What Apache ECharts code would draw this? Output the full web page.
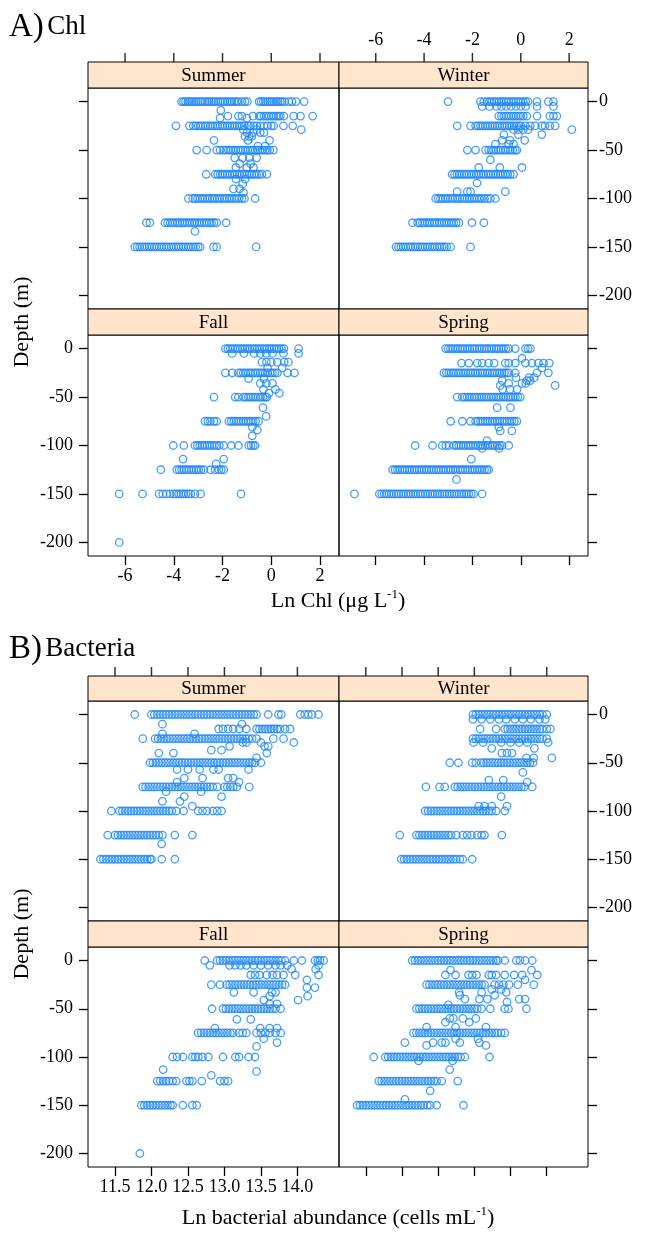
<!DOCTYPE html>
<html>
<head>
<meta charset="utf-8">
<script src="https://cdn.jsdelivr.net/npm/echarts@6/dist/echarts.min.js"></script>
<style>
html, body { margin: 0; padding: 0; background: #fff; }
#chart { width: 648px; height: 1236px; }
</style>
</head>
<body>
<div id="chart"></div>
<script>
// each row: [depth, x values...]  (x = Ln Chl or Ln bacterial abundance)
const chlSummer = [
  [0, -3.68,-3.6,-3.52,-3.42,-3.35,-3.26,-3.18,-3.08,-3.0,-2.9,-2.82,-2.72,-2.62,-2.55,-2.45,-2.36,-2.28,-2.18,-2.08,-1.98,-1.9,-1.8,-1.7,-1.62,-1.52,-1.42,-1.35,-1.2,-1.08,-0.98,-0.5,-0.42,-0.33,-0.25,-0.15,-0.06,0.02,0.1,0.2,0.28,0.37,0.45,0.55,0.72,0.85,1.02,1.35],
  [-9, -2.07],
  [-15, -1.78,-1.35,-1.2,-0.75,-0.5,-0.42,-0.3,-0.2,-0.1,0.0,0.1,0.2,0.3,0.37,0.52,0.92,1.2,1.7],
  [-17, -2.1,-1.0],
  [-25, -3.91,-3.36,-3.2,-3.1,-3.0,-2.9,-2.8,-2.7,-2.6,-2.5,-2.4,-2.3,-2.2,-2.1,-2.0,-1.9,-1.8,-1.7,-1.6,-1.5,-1.4,-1.3,-1.2,-1.1,-0.95,-0.85,-0.72,-0.6,-0.45,-0.3,-0.15,0.0,0.1,0.5,0.88],
  [-29, 1.23,-1.15,-0.6],
  [-32, -1.0,-0.75,-0.45,-0.3],
  [-36, -1.08,-0.9,-0.8],
  [-40, -2.35,-0.07,-0.95],
  [-46, -0.55,-0.25],
  [-50, -3.06,-2.65,-2.24,-2.1,-1.96,-1.86,-1.76,-1.66,-1.56,-1.46,-1.36,-1.26,-1.16,-1.06,-0.96,-0.86,-0.76,-0.66,-0.56,-0.46,-0.36,-0.26,-0.16,-0.06,0.09],
  [-58, -1.5,-1.17,-0.9,-0.6],
  [-64, -1.3,-0.85],
  [-68, -1.45,-1.0,-0.73],
  [-75, -2.67,-2.3,-2.2,-2.1,-2.0,-1.9,-1.8,-1.7,-1.6,-1.5,-1.4,-1.3,-1.2,-1.1,-1.0,-0.9,-0.8,-0.7,-0.6,-0.5,-0.38,-0.18],
  [-80, -1.45,-1.07],
  [-85, -1.17],
  [-90, -1.55,-1.3],
  [-94, -1.14],
  [-100, -3.4,-3.22,-3.12,-3.02,-2.92,-2.82,-2.72,-2.62,-2.52,-2.42,-2.32,-2.22,-2.12,-2.02,-1.92,-1.82,-1.72,-1.62,-1.52,-1.42,-1.32,-1.2,-1.1,-0.66],
  [-125, -5.12,-4.98,-4.36,-4.25,-4.15,-4.05,-3.95,-3.85,-3.75,-3.65,-3.55,-3.45,-3.35,-3.25,-3.15,-3.05,-2.95,-2.85,-2.75,-2.65,-2.55,-2.45,-2.35,-2.24,-1.85],
  [-134, -3.13],
  [-150, -5.6,-5.5,-5.4,-5.3,-5.2,-5.1,-5.0,-4.9,-4.8,-4.7,-4.6,-4.5,-4.4,-4.3,-4.2,-4.1,-4.0,-3.9,-3.8,-3.7,-3.6,-3.5,-3.4,-3.3,-3.2,-3.1,-3.0,-2.92,-2.37,-2.24,-0.62]
];
const chlWinter = [
  [0, -3.01,-1.67,-1.53,-1.4,-1.3,-1.2,-1.1,-1.0,-0.9,-0.8,-0.7,-0.6,-0.5,-0.4,-0.3,-0.2,-0.1,0.0,0.1,0.2,0.3,0.67,1.14,1.35],
  [-5, -1.6,-1.3,-1.0,-0.8,-0.6,-0.4,-0.2,0.0,0.2,0.67,1.35],
  [-15, -0.91,-0.8,-0.7,-0.6,-0.5,-0.4,-0.3,-0.2,-0.1,0.0,0.1,0.25,0.67,1.2,1.35,1.49],
  [-25, -2.63,-2.08,-1.87,-1.77,-1.67,-1.57,-1.47,-1.37,-1.27,-1.17,-1.07,-0.97,-0.87,-0.77,-0.67,-0.57,-0.47,-0.37,-0.27,-0.17,-0.07,0.0,0.19,0.39,0.6,0.87,1.0,1.2,1.42],
  [-29, 2.11,-0.3,-0.1,0.1,0.3],
  [-34, 0.87,-0.7,-0.1],
  [-40, -0.77,-0.45,0.16],
  [-44, -1.05,-0.5,-0.3],
  [-50, -2.21,-1.87,-1.46,-1.33,-1.23,-1.13,-1.03,-0.93,-0.83,-0.73,-0.63,-0.53,-0.43,-0.33,-0.23,-0.16],
  [-60, -1.26],
  [-68, -1.74,-0.87,0.05],
  [-75, -2.84,-2.74,-2.64,-2.54,-2.44,-2.34,-2.24,-2.14,-2.04,-1.94,-1.84,-1.74,-1.64,-1.54,-1.44,-1.34,-1.24,-1.14,-1.04,-0.94,-0.84,-0.74,-0.64,-0.54,-0.44,-0.3],
  [-84, -1.81],
  [-93, -2.63,-2.21,-2.08,-0.64],
  [-100, -3.52,-3.42,-3.32,-3.22,-3.12,-3.02,-2.92,-2.82,-2.72,-2.62,-2.52,-2.42,-2.32,-2.22,-2.12,-2.02,-1.92,-1.82,-1.72,-1.62,-1.5,-1.38,-1.26,-1.05],
  [-125, -4.48,-4.27,-4.17,-4.07,-3.97,-3.87,-3.77,-3.67,-3.57,-3.47,-3.37,-3.27,-3.17,-3.07,-2.97,-2.87,-2.77,-2.67,-2.56,-2.02,-1.53],
  [-150, -5.16,-5.06,-4.96,-4.86,-4.76,-4.66,-4.56,-4.46,-4.36,-4.26,-4.16,-4.06,-3.96,-3.86,-3.76,-3.66,-3.56,-3.46,-3.36,-3.26,-3.16,-3.06,-2.9,-2.08]
];
const chlFall = [
  [0, -1.88,-1.78,-1.68,-1.58,-1.48,-1.38,-1.28,-1.18,-1.08,-0.98,-0.88,-0.78,-0.68,-0.58,-0.48,-0.38,-0.28,-0.18,-0.08,0.02,0.12,0.22,0.32,0.42,0.52,1.12],
  [-5, -1.6,-1.12,-0.7,-0.45,-0.2,0.05,0.5,1.12],
  [-14, -0.38,-0.2,0.0,0.25,0.53,0.7],
  [-20, -0.15,0.45],
  [-25, -1.88,-1.6,-1.35,-1.25,-1.15,-1.05,-0.95,-0.85,-0.75,-0.65,-0.55,-0.45,-0.35,-0.25,-0.15,-0.05,0.05,0.15,0.25,0.67,0.95],
  [-31, -0.93,-0.3],
  [-36, -0.45,-0.2,0.05],
  [-42, -0.32,0.17],
  [-46, -0.1,0.33],
  [-50, -2.35,-1.48,-1.35,-1.14,-1.04,-0.94,-0.84,-0.74,-0.64,-0.54,-0.44,-0.34,-0.24,-0.18],
  [-61, -0.34],
  [-70, -0.21],
  [-75, -2.72,-2.6,-2.5,-2.35,-2.24,-1.74,-1.64,-1.54,-1.44,-1.34,-1.24,-1.14,-1.04,-0.94,-0.84,-0.74,-0.64,-0.52],
  [-81, -0.78],
  [-84, -0.57],
  [-90, -0.78],
  [-100, -4.02,-3.59,-3.13,-3.03,-2.93,-2.83,-2.73,-2.63,-2.53,-2.43,-2.33,-2.23,-2.13,-1.95,-1.64,-1.35,-0.93,-0.83,-0.73,-0.66],
  [-114, -3.62,-1.95],
  [-119, -2.26],
  [-125, -4.53,-3.88,-3.78,-3.68,-3.58,-3.48,-3.38,-3.28,-3.18,-3.08,-2.98,-2.88,-2.76,-2.49,-2.3,-2.15,-2.05,-1.95],
  [-150, -6.24,-5.28,-4.6,-4.45,-4.3,-4.15,-4.0,-3.9,-3.8,-3.7,-3.6,-3.5,-3.4,-3.3,-3.13,-2.9,-1.24],
  [-200, -6.24]
];
const chlSpring = [
  [0, -3.11,-3.01,-2.91,-2.81,-2.71,-2.61,-2.51,-2.41,-2.31,-2.21,-2.11,-2.01,-1.91,-1.81,-1.71,-1.61,-1.51,-1.41,-1.31,-1.21,-1.11,-1.01,-0.91,-0.81,-0.71,-0.61,-0.5,-0.23,0.19,0.3,0.4],
  [-10, 0.05],
  [-15, -2.45,-2.15,-1.8,-1.6,-1.33,-1.1,-0.64,-0.5,-0.23,0.19,0.46,0.73,0.94,1.18],
  [-20, 0.87],
  [-25, -3.18,-3.08,-2.98,-2.88,-2.78,-2.68,-2.58,-2.48,-2.38,-2.28,-2.18,-2.08,-1.98,-1.88,-1.78,-1.68,-1.58,-1.48,-1.38,-1.28,-1.18,-1.08,-0.98,-0.88,-0.78,-0.68,-0.58,-0.5,-0.23,0.67,1.14],
  [-30, -0.2,0.35,0.55],
  [-33, -0.77,0.25,0.39],
  [-36, -0.5,0.05,0.2],
  [-38, -0.85,1.42],
  [-42, -0.75,-0.45,-0.15],
  [-50, -2.63,-2.42,-2.32,-2.22,-2.12,-2.02,-1.92,-1.82,-1.72,-1.62,-1.52,-1.42,-1.32,-1.22,-1.12,-1.02,-0.92,-0.82,-0.72,-0.62,-0.52,-0.42,-0.32,-0.22,-0.12,-0.02],
  [-61, -0.98,-0.43],
  [-75, -2.9,-2.42,-2.08,-1.87,-1.77,-1.67,-1.57,-1.47,-1.37,-1.27,-1.17,-1.07,-0.97,-0.87,-0.77,-0.67,-0.57,-0.47,-0.37,-0.27,-0.16],
  [-81, -0.91],
  [-85, -0.85,-0.37],
  [-95, -1.4],
  [-100, -4.37,-3.65,-3.25,-3.1,-2.97,-2.77,-2.67,-2.57,-2.47,-2.37,-2.27,-2.17,-2.07,-1.97,-1.87,-1.77,-1.67,-1.57,-1.47,-1.37,-1.27,-1.17,-1.07,-0.97,-0.87,-0.77,-0.5],
  [-103, -1.6,-0.9],
  [-114, -2.05],
  [-125, -5.3,-5.2,-5.1,-5.0,-4.9,-4.8,-4.7,-4.6,-4.5,-4.4,-4.3,-4.2,-4.1,-4.0,-3.9,-3.8,-3.7,-3.6,-3.5,-3.4,-3.3,-3.2,-3.1,-3.0,-2.9,-2.8,-2.7,-2.6,-2.5,-2.4,-2.3,-2.2,-2.1,-2.0,-1.9,-1.8,-1.7,-1.6,-1.5,-1.4,-1.33],
  [-135, -2.66],
  [-150, -6.88,-5.85,-5.75,-5.65,-5.55,-5.45,-5.35,-5.25,-5.15,-5.05,-4.95,-4.85,-4.75,-4.65,-4.55,-4.45,-4.35,-4.25,-4.15,-4.05,-3.95,-3.85,-3.75,-3.65,-3.55,-3.45,-3.35,-3.25,-3.15,-3.05,-2.95,-2.85,-2.75,-2.65,-2.55,-2.45,-2.35,-2.25,-2.15,-2.05,-1.95,-1.6]
];

const bacSummer = [
  [0, 11.77,12.0,12.04,12.08,12.12,12.16,12.2,12.24,12.28,12.32,12.36,12.4,12.44,12.48,12.52,12.56,12.6,12.64,12.68,12.72,12.76,12.8,12.84,12.88,12.92,12.96,13.0,13.04,13.08,13.12,13.16,13.2,13.24,13.28,13.32,13.36,13.4,13.44,13.6,13.74,13.78,14.04,14.1,14.15,14.2,14.29],
  [-10, 12.15,13.24],
  [-15, 12.92,12.98,13.05,13.12,13.2,13.3,13.44,13.48,13.52,13.56,13.6,13.64,13.68,13.72,13.76,13.83,13.9],
  [-20, 12.15,12.59],
  [-25, 11.88,12.05,12.09,12.13,12.17,12.21,12.25,12.29,12.33,12.37,12.41,12.45,12.49,12.53,12.57,12.61,12.65,12.69,12.73,12.77,12.81,12.85,12.89,12.93,12.97,13.01,13.05,13.09,13.13,13.17,13.21,13.25,13.29,13.33,13.38,13.44,13.67,13.81],
  [-29, 13.25,13.3,13.5,13.95],
  [-33, 13.07,13.55,13.6],
  [-37, 12.82,12.96],
  [-40, 12.1,12.3,13.58],
  [-45, 13.44],
  [-50, 11.98,12.02,12.06,12.1,12.14,12.18,12.22,12.26,12.3,12.34,12.38,12.42,12.46,12.5,12.54,12.58,12.62,12.66,12.7,12.74,12.78,12.82,12.86,12.9,12.94,12.98,13.02,13.06,13.1,13.14,13.18,13.22,13.26,13.3,13.34,13.38,13.42,13.5],
  [-57, 12.35,12.5,12.66,12.85,12.92,13.33],
  [-66, 12.45,12.7,13.05,13.12],
  [-70, 12.35,13.2],
  [-75, 11.88,11.92,11.96,12.0,12.04,12.08,12.12,12.16,12.2,12.24,12.28,12.32,12.36,12.4,12.44,12.48,12.52,12.56,12.6,12.64,12.68,12.72,12.76,12.8,12.84,12.9,13.0,13.04,13.08,13.12,13.17,13.34],
  [-80, 12.2,12.68],
  [-85, 12.45,12.96],
  [-90, 12.15,12.39],
  [-95, 12.56],
  [-100, 11.45,11.56,11.6,11.64,11.68,11.72,11.76,11.8,11.84,11.88,11.92,11.96,12.0,12.04,12.08,12.12,12.16,12.2,12.24,12.28,12.34,12.44,12.64,12.7,12.76,12.84,12.9,12.96],
  [-125, 11.4,11.5,11.54,11.58,11.62,11.66,11.7,11.74,11.78,11.82,11.86,11.9,11.94,11.98,12.02,12.06,12.1,12.15,12.32,12.56],
  [-134, 12.14],
  [-150, 11.3,11.34,11.38,11.42,11.46,11.5,11.54,11.58,11.62,11.66,11.7,11.74,11.78,11.82,11.86,11.9,11.94,11.98,12.0,12.14,12.32]
];
const bacWinter = [
  [0, 12.98,13.02,13.06,13.1,13.14,13.18,13.22,13.26,13.3,13.34,13.38,13.42,13.46,13.5,13.54,13.58,13.62,13.66,13.7,13.74,13.78,13.82,13.86,13.9,13.94,14.0],
  [-5, 12.98,13.1,13.22,13.34,13.44,13.56,13.67,13.78,13.9,13.98],
  [-15, 13.08,13.3,13.42,13.46,13.5,13.54,13.58,13.62,13.66,13.7,13.74,13.78,13.82,13.86,13.9,13.94,14.0,14.05],
  [-25, 12.98,13.02,13.06,13.1,13.14,13.18,13.22,13.26,13.3,13.34,13.38,13.42,13.46,13.5,13.54,13.58,13.62,13.66,13.7,13.74,13.78,13.82,13.86,13.9,13.94,14.0],
  [-29, 12.99,13.12,13.37,13.5,13.62,13.73,14.02],
  [-35, 13.24,13.83],
  [-40, 13.38,13.45,13.52],
  [-45, 13.72,13.82,14.07],
  [-50, 12.66,12.78,12.97,13.02,13.09,13.13,13.17,13.21,13.25,13.29,13.33,13.37,13.41,13.45,13.49,13.53,13.57,13.61,13.65,13.69,13.73,13.77,13.81],
  [-60, 13.67],
  [-68, 13.2,13.4],
  [-70, 13.73],
  [-75, 12.33,12.52,12.59,12.73,12.77,12.81,12.85,12.89,12.93,12.97,13.01,13.05,13.09,13.13,13.17,13.21,13.25,13.29,13.33,13.37,13.41,13.45,13.49,13.53,13.57,13.61,13.65,13.69,13.8],
  [-85, 13.37],
  [-95, 13.06,13.14,13.24,13.45],
  [-100, 12.32,12.36,12.4,12.44,12.48,12.52,12.56,12.6,12.64,12.68,12.72,12.76,12.8,12.84,12.88,12.92,12.96,13.0,13.04,13.08,13.12,13.16,13.2,13.24,13.3,13.42],
  [-125, 11.97,12.2,12.24,12.28,12.32,12.36,12.4,12.44,12.48,12.52,12.56,12.6,12.64,12.68,12.75,12.84,12.9,12.96,13.04,13.1,13.14,13.38],
  [-150, 11.99,12.03,12.07,12.11,12.15,12.19,12.23,12.27,12.31,12.35,12.39,12.43,12.47,12.51,12.55,12.59,12.63,12.67,12.71,12.75,12.8,12.84,12.97]
];
const bacFall = [
  [0, 12.73,12.9,12.94,12.98,13.02,13.06,13.1,13.14,13.18,13.22,13.26,13.3,13.34,13.38,13.42,13.46,13.5,13.54,13.58,13.62,13.66,13.7,13.74,13.78,13.83,13.95,14.06,14.24,14.28,14.31,14.36],
  [-5, 12.8,13.07,13.15,13.22,13.3,13.4,13.5,13.6,13.7,13.77,13.86,14.29],
  [-9, 13.92,14.25],
  [-15, 13.36,13.42,13.48,13.58,13.66,13.72,13.81,13.97,14.29],
  [-20, 14.13],
  [-25, 12.82,12.94,13.03,13.07,13.11,13.15,13.19,13.23,13.27,13.31,13.35,13.39,13.43,13.47,13.51,13.55,13.59,13.63,13.67,13.71,13.75,13.79,13.83],
  [-28, 14.13,14.24],
  [-33, 13.13,13.4,13.65,13.7],
  [-37, 13.62,14.14],
  [-41, 13.54,14.01],
  [-45, 13.62,13.72],
  [-50, 12.83,12.98,13.02,13.06,13.1,13.14,13.18,13.22,13.26,13.3,13.34,13.38,13.42,13.46,13.5,13.54,13.58,13.62,13.66,13.7,13.77],
  [-61, 13.17,13.36],
  [-70, 12.87,13.49,13.62,13.72],
  [-75, 12.64,12.68,12.72,12.76,12.8,12.84,12.88,12.92,12.96,13.0,13.04,13.08,13.12,13.2,13.25,13.3,13.44,13.5,13.56,13.62,13.7,13.77],
  [-81, 13.54],
  [-85, 13.72],
  [-89, 13.44],
  [-100, 12.29,12.35,12.43,12.56,12.6,12.64,12.7,12.78,12.98,13.15,13.2,13.33,13.42],
  [-113, 12.16],
  [-115, 13.44],
  [-119, 12.82],
  [-125, 12.08,12.12,12.16,12.2,12.24,12.29,12.34,12.48,12.52,12.56,12.69,12.94,13.0,13.05],
  [-150, 11.86,11.9,11.94,11.98,12.02,12.06,12.1,12.14,12.18,12.22,12.26,12.29,12.43,12.56,12.62],
  [-200, 11.84]
];
const bacSpring = [
  [0, 12.14,12.18,12.22,12.26,12.3,12.34,12.38,12.42,12.46,12.5,12.54,12.58,12.62,12.66,12.7,12.74,12.78,12.82,12.86,12.9,12.94,12.98,13.02,13.06,13.1,13.14,13.18,13.22,13.26,13.3,13.33,13.42,13.58,13.63,13.7,13.8],
  [-10, 12.67,13.79],
  [-15, 12.6,12.74,12.92,12.97,13.03,13.2,13.24,13.3,13.42,13.55,13.66,13.87],
  [-20, 13.7],
  [-25, 12.34,12.38,12.42,12.46,12.5,12.54,12.58,12.62,12.66,12.7,12.74,12.78,12.82,12.86,12.9,12.94,12.98,13.02,13.06,13.1,13.14,13.28,13.34,13.4,13.48,13.6,13.82],
  [-30, 13.24,13.37],
  [-33, 12.79,13.1,13.44],
  [-36, 12.8,13.28],
  [-40, 12.87,13.07,13.18,13.62,13.7],
  [-43, 13.45],
  [-46, 12.64],
  [-50, 12.2,12.24,12.28,12.32,12.36,12.4,12.44,12.48,12.52,12.56,12.6,12.64,12.68,12.72,12.76,12.8,12.84,12.88,12.92,12.96,13.0,13.04,13.1,13.22,13.42,13.47,13.72],
  [-60, 12.66,12.71,12.84,13.02],
  [-64, 12.6,12.93],
  [-69, 12.34,12.74,13.16],
  [-75, 12.16,12.2,12.24,12.28,12.32,12.36,12.4,12.44,12.48,12.52,12.56,12.6,12.64,12.68,12.72,12.76,12.8,12.84,12.88,12.92,12.96,13.0,13.04,13.08,13.12,13.16,13.2,13.24,13.28,13.32,13.37,13.42],
  [-81, 12.74,13.05],
  [-85, 12.04,12.43,12.55,12.6,12.8,13.07],
  [-88, 12.34,13.16],
  [-100, 11.61,11.77,11.81,11.85,11.89,11.93,11.97,12.01,12.05,12.09,12.13,12.17,12.21,12.25,12.29,12.33,12.37,12.41,12.45,12.49,12.53,12.57,12.61,12.65,12.69,12.73,12.77,12.81,12.87,13.21],
  [-104, 12.23,12.7],
  [-113, 12.66],
  [-125, 11.68,11.72,11.76,11.8,11.84,11.88,11.92,11.96,12.0,12.04,12.08,12.12,12.16,12.2,12.24,12.28,12.32,12.36,12.4,12.44,12.48,12.55,12.77],
  [-135, 12.39],
  [-144, 12.04],
  [-150, 11.38,11.42,11.46,11.5,11.54,11.58,11.62,11.66,11.7,11.74,11.78,11.82,11.86,11.9,11.94,11.98,12.02,12.06,12.1,12.14,12.18,12.22,12.26,12.3,12.35,12.39,12.48,12.85]
];

const seasons = ['Summer', 'Winter', 'Fall', 'Spring'];
const chlTicks = [-6, -4, -2, 0, 2];
const bacTicks = [11.5, 12.0, 12.5, 13.0, 13.5, 14.0];
const depthTicks = [0, -50, -100, -150, -200];

const FONT = 'Liberation Serif, Times New Roman, serif';
const PT_COLOR = '#1a85ff';
const TICK = 9;
const Y_MIN = -214, Y_MAX = 14;

// layout of the two lattice blocks
const colX = [88, 339], colW = [251, 249];
const blocks = [
  { rows: [chlSummer, chlWinter, chlFall, chlSpring], stripTop: [62, 309], panelTop: [88, 335], panelH: 221,
    xMin: -7.52, xMax: 2.78, ticks: chlTicks, fmt: v => String(v), topLabels: true },
  { rows: [bacSummer, bacWinter, bacFall, bacSpring], stripTop: [676, 921], panelTop: [701, 947], panelH: 220,
    xMin: 11.13, xMax: 14.57, ticks: bacTicks, fmt: v => v.toFixed(1), topLabels: false }
];

const toPoints = rows => rows.flatMap(r => r.slice(1).map(x => [x, r[0]]));

const grids = [], xAxes = [], yAxes = [], series = [], graphics = [];
const labelStyle = { fontFamily: FONT, fontSize: 18, color: '#000' };
const tickStyle = { color: '#000', width: 1.3 };

blocks.forEach(b => {
  b.rows.forEach((rows, k) => {
    const row = Math.floor(k / 2), col = k % 2;
    const idx = grids.length;
    const sy = b.stripTop[row], sh = b.panelTop[row] - b.stripTop[row];
    grids.push({ left: colX[col], top: b.panelTop[row], width: colW[col], height: b.panelH,
      show: true, borderColor: '#000', borderWidth: 1, backgroundColor: 'transparent' });
    xAxes.push({
      gridIndex: idx, type: 'value', min: b.xMin, max: b.xMax, position: 'bottom',
      show: row === 1,
      axisLine: { show: false, onZero: false }, splitLine: { show: false },
      axisTick: { show: true, length: TICK, customValues: b.ticks, lineStyle: tickStyle },
      axisLabel: Object.assign({ show: col === 0, customValues: b.ticks, formatter: b.fmt, margin: 11 }, labelStyle)
    });
    const yLab = col === 0 ? row === 1 : row === 0;
    yAxes.push({
      gridIndex: idx, type: 'value', min: Y_MIN, max: Y_MAX, position: col === 0 ? 'left' : 'right',
      axisLine: { show: false, onZero: false }, splitLine: { show: false },
      axisTick: { show: true, length: TICK, customValues: depthTicks, lineStyle: tickStyle },
      axisLabel: Object.assign({ show: yLab, customValues: depthTicks, margin: col === 0 ? 15 : 11 }, labelStyle)
    });
    series.push({
      type: 'scatter', xAxisIndex: idx, yAxisIndex: idx, data: toPoints(rows),
      symbol: 'circle', symbolSize: 7.5, silent: true,
      itemStyle: { color: 'rgba(0,0,0,0)', borderColor: PT_COLOR, borderWidth: 1.3 }
    });
    if (row === 0) {
      // top ticks sit above the strip: mark them in the panel's own scale, past its top edge
      const perUnit = b.panelH / (Y_MAX - Y_MIN);
      const tickY = Y_MAX + (sh + TICK / 2) / perUnit;
      series.push({
        type: 'scatter', xAxisIndex: idx, yAxisIndex: idx, silent: true, clip: false, z: 30,
        data: b.ticks.map(v => [v, tickY]),
        symbol: 'rect', symbolSize: [1.5, TICK], itemStyle: { color: '#000' }
      });
      // thin band above the strip carries the top labels
      const t = grids.length;
      grids.push({ left: colX[col], top: sy - TICK, width: colW[col], height: TICK, show: false });
      xAxes.push({
        gridIndex: t, type: 'value', min: b.xMin, max: b.xMax, position: 'top',
        axisLine: { show: false, onZero: false }, splitLine: { show: false }, axisTick: { show: false },
        axisLabel: Object.assign({ show: b.topLabels && col === 1, customValues: b.ticks, formatter: b.fmt,
          margin: 4 }, labelStyle)
      });
      yAxes.push({ gridIndex: t, type: 'value', min: 0, max: 1, show: false });
    }
    // strip
    graphics.push({ type: 'rect', shape: { x: colX[col], y: sy, width: colW[col], height: sh },
      style: { fill: '#ffe5cc', stroke: '#000', lineWidth: 1 }, z: 10 });
    graphics.push({ type: 'text', x: colX[col] + colW[col] / 2, y: sy + sh / 2 + 1, z: 11,
      style: { text: seasons[k], font: '19px ' + FONT, fill: '#000', align: 'center', verticalAlign: 'middle' } });
  });
});

// titles and axis names
const richText = (x, y, text, rich, align) => ({ type: 'text', x: x, y: y, z: 11,
  style: { text: text, rich: rich, align: align || 'center', verticalAlign: 'middle', fill: '#000' } });
const blockRich = { a: { fontFamily: FONT, fontSize: 33 }, b: { fontFamily: FONT, fontSize: 27 } };
graphics.push(richText(9, 27, '{a|A)} {b|Chl}', blockRich, 'left'));
graphics.push(richText(9, 649, '{a|B)} {b|Bacteria}', blockRich, 'left'));

const nameRich = { n: { fontFamily: FONT, fontSize: 22, lineHeight: 26 },
  s: { fontFamily: FONT, fontSize: 13, lineHeight: 13, verticalAlign: 'top' } };
graphics.push(richText(338, 601, '{n|Ln Chl (μg L}{s|-1}{n|)}', nameRich));
graphics.push(richText(338, 1218, '{n|Ln bacterial abundance (cells mL}{s|-1}{n|)}', nameRich));

[322, 934].forEach(cy => {
  graphics.push({ type: 'text', x: 22, y: cy, rotation: Math.PI / 2, z: 11,
    style: { text: 'Depth (m)', font: '22px ' + FONT, fill: '#000', align: 'center', verticalAlign: 'middle' } });
});

const chart = echarts.init(document.getElementById('chart'));
chart.setOption({
  animation: false,
  backgroundColor: '#fff',
  grid: grids,
  xAxis: xAxes,
  yAxis: yAxes,
  series: series,
  graphic: graphics
});
</script>
</body>
</html>
